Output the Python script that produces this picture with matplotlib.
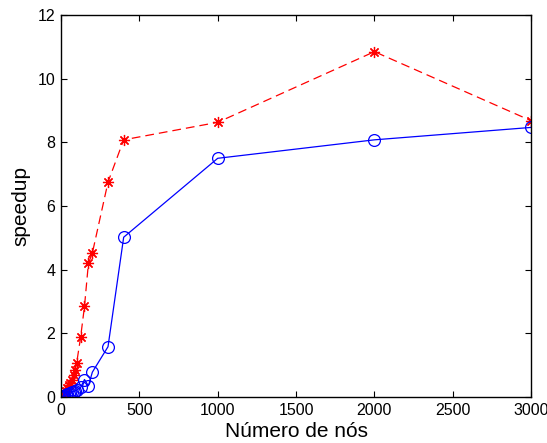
import matplotlib
matplotlib.use("Agg")
import matplotlib.pyplot as plt

plt.rcParams['font.family'] = ['Liberation Sans', 'DejaVu Sans']

# numero de nos
nos = [1, 5, 10, 20, 30, 40, 50, 60, 70, 80, 90, 100, 125, 150, 175, 200, 300, 400, 1000, 2000, 3000]
# speedup das duas versoes
speedup_vermelho = [0.01, 0.03, 0.06, 0.12, 0.2, 0.28, 0.38, 0.45, 0.55, 0.68, 0.85, 1.07,
                    1.87, 2.85, 4.2, 4.52, 6.75, 8.08, 8.63, 10.85, 8.68]
speedup_azul = [0.005, 0.01, 0.02, 0.04, 0.06, 0.08, 0.1, 0.12, 0.15, 0.17, 0.2, 0.22,
                0.3, 0.55, 0.35, 0.78, 1.58, 5.02, 7.5, 8.08, 8.47]

fig = plt.figure(figsize=(5.47, 4.43), dpi=100)
ax = fig.add_axes([0.1115, 0.1038, 0.8595, 0.8622])

# asterisco estilo matlab
ax.plot(nos, speedup_vermelho, color='r', linestyle='--', marker=(8, 2, 0),
        markersize=8, markeredgewidth=0.9, linewidth=0.9, dashes=(7, 4))
ax.plot(nos, speedup_azul, 'bo-', markersize=8.5, markerfacecolor='none',
        markeredgewidth=0.9, linewidth=0.9)

ax.set_xlim(0, 3000)
ax.set_ylim(0, 12)
ax.set_xticks([0, 500, 1000, 1500, 2000, 2500, 3000])
ax.set_yticks([0, 2, 4, 6, 8, 10, 12])
ax.tick_params(direction='in', top=True, right=True, labelsize=11.5, length=4, pad=4)
for s in ax.spines.values():
    s.set_linewidth(1.0)

ax.set_xlabel('Número de nós', fontsize=15, labelpad=3.5)
ax.set_ylabel('speedup', fontsize=15, labelpad=5)

fig.savefig('out.png', dpi=100)
